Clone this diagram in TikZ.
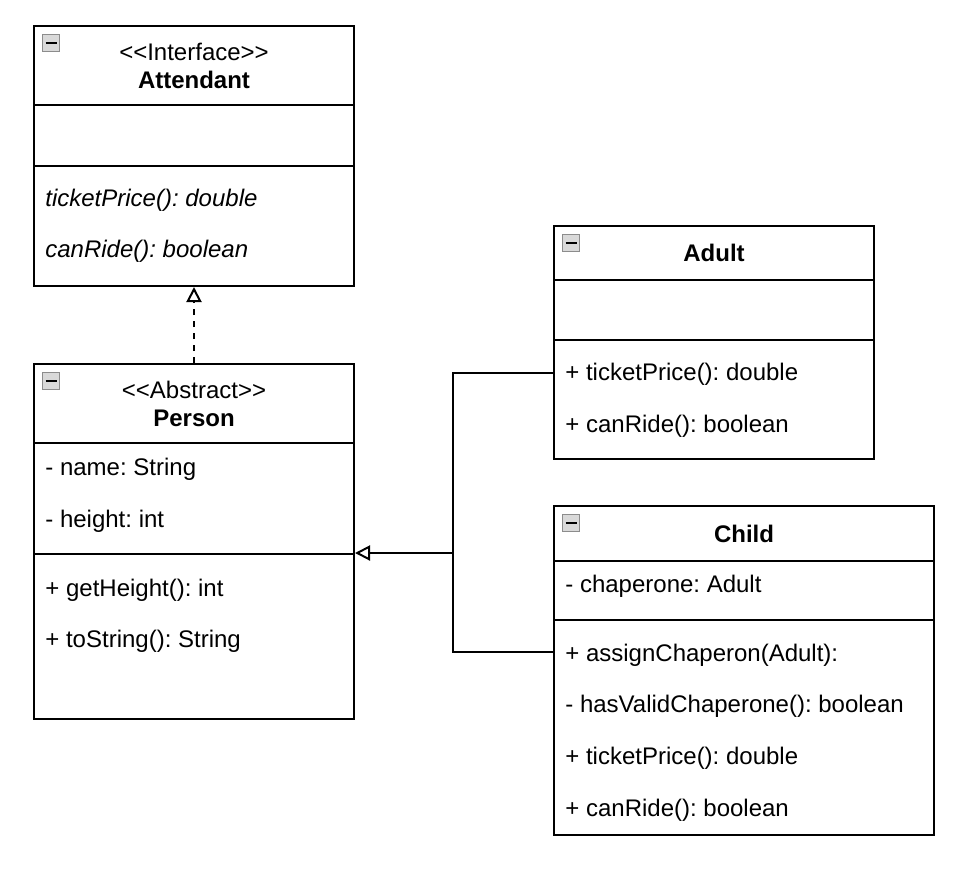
\documentclass[tikz,border=0pt]{standalone}
\usepackage{fontspec}
\setmainfont{Liberation Sans}
\usetikzlibrary{arrows.meta}
\frenchspacing

\tikzset{
  umlbox/.style={draw, line width=1pt, anchor=north west, inner sep=0pt},
  umlhead/.style={umlbox, align=center, font=\fontsize{12}{14}\selectfont},
  member/.style={anchor=west, inner sep=0pt, font=\fontsize{12}{14}\selectfont},
  foldicon/.style={draw=black!45, fill=black!15, line width=0.6pt, minimum size=8.5pt, inner sep=0pt},
  realize/.style={-{Triangle[open, length=7.5pt, width=7.5pt]}}
}
\newcommand{\fold}[2]{
  \node[foldicon] (#1) at (#2) {};
  \draw[line width=1.1pt] ([xshift=1.8pt]#1.west) -- ([xshift=-1.8pt]#1.east);
}
\newcommand{\stereo}[1]{<\kern0pt<#1>\kern0pt>}

\begin{document}
\begin{tikzpicture}[x=0.5pt, y=-0.5pt]
    \useasboundingbox (0,0) rectangle (966,880);
    % interface
    \node[umlhead, minimum width=160pt, minimum height=39.5pt] at (33,25) (att) {\stereo{Interface}\\\textbf{Attendant}};
    \node[umlbox, minimum width=160pt, minimum height=30.5pt] at (33,104) (attF) {};
    \node[umlbox, minimum width=160pt, minimum height=60pt] at (33,165) (attM) {};
    \node[member] at (45,200) (attPrice) {\itshape ticketPrice(): double};
    \node[member] at (45,251) (attRide) {\itshape canRide(): boolean};
    \fold{attIcon}{51,43}
    % abstract class
    \node[umlhead, minimum width=160pt, minimum height=39.5pt] at (33,363) (per) {\stereo{Abstract}\\\textbf{Person}};
    \node[umlbox, minimum width=160pt, minimum height=55.5pt] at (33,442) (perF) {};
    \node[umlbox, minimum width=160pt, minimum height=82.5pt] at (33,553) (perM) {};
    \node[member] at (45,469) (perName) {- name: String};
    \node[member] at (45,521) (perHeight) {- height: int};
    \node[member] at (45,590) (perGet) {+ getHeight(): int};
    \node[member] at (45,641) (perStr) {+ toString(): String};
    \fold{perIcon}{51,381}
    % adult
    \node[umlhead, minimum width=160pt, minimum height=27pt] at (553,225) (adu) {\textbf{Adult}};
    \node[umlbox, minimum width=160pt, minimum height=30pt] at (553,279) (aduF) {};
    \node[umlbox, minimum width=160pt, minimum height=59.5pt] at (553,339) (aduM) {};
    \node[member] at (565,374) (aduPrice) {+ ticketPrice(): double};
    \node[member] at (565,426) (aduRide) {+ canRide(): boolean};
    \fold{aduIcon}{571,243}
    % child
    \node[umlhead, minimum width=190pt, minimum height=27.5pt] at (553,505) (chi) {\textbf{Child}};
    \node[umlbox, minimum width=190pt, minimum height=29.5pt] at (553,560) (chiF) {};
    \node[umlbox, minimum width=190pt, minimum height=107.5pt] at (553,619) (chiM) {};
    \node[member] at (565,586) (chiChap) {- chaperone: Adult};
    \node[member] at (565,655) (chiAssign) {+ assignChaperon(Adult):};
    \node[member] at (565,706) (chiValid) {- hasValidChaperone(): boolean};
    \node[member] at (565,758) (chiPrice) {+ ticketPrice(): double};
    \node[member] at (565,810) (chiRide) {+ canRide(): boolean};
    \fold{chiIcon}{571,523}
    % relations
    \coordinate (join) at (453,553);
    \coordinate (aduEnd) at (553,373);
    \coordinate (chiEnd) at (553,652);
    \draw[line width=1pt, dash pattern=on 3pt off 3pt, realize] (per.north) -- (attM.south);
    \draw[line width=1pt] (aduEnd) -| (join);
    \draw[line width=1pt] (chiEnd) -| (join);
    \draw[line width=1pt, realize] (join) -- (perM.north east);
\end{tikzpicture}
\end{document}
